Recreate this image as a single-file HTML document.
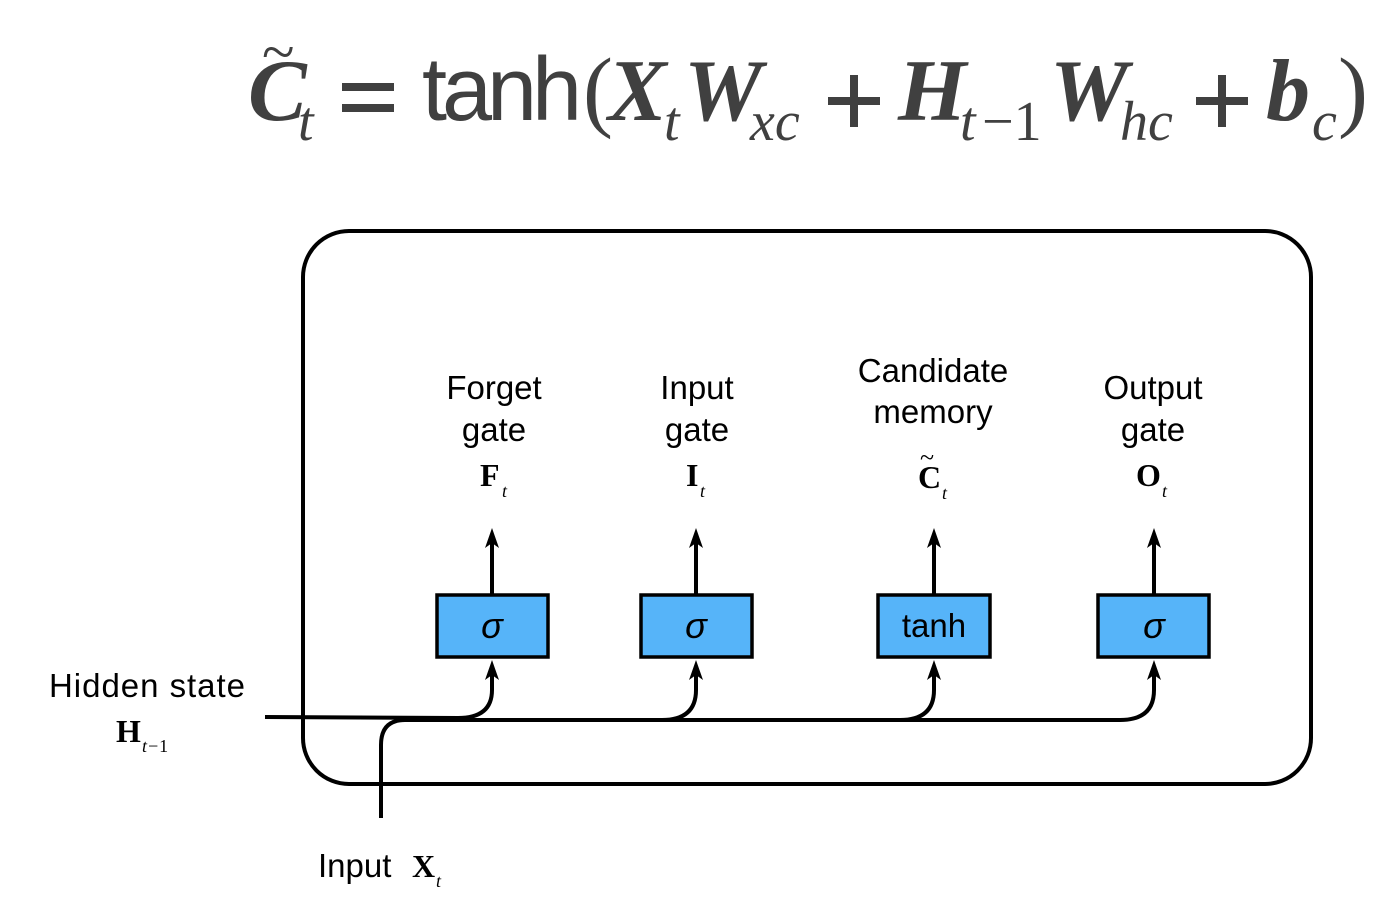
<!DOCTYPE html>
<html><head><meta charset="utf-8"><style>body{margin:0;background:#fff}svg{display:block}</style></head>
<body>
<svg width="1389" height="912" viewBox="0 0 1389 912" xmlns="http://www.w3.org/2000/svg">
<g fill="#404040" font-family="Liberation Serif, serif" font-style="italic" font-weight="bold" font-size="88">
<text x="248" y="120">C</text>
<text x="262" y="72" font-size="60" font-style="normal" font-weight="normal">~</text>
<text x="298" y="140" font-size="56" font-weight="normal">t</text>
<rect x="342" y="83" width="52" height="8"/>
<rect x="342" y="104" width="52" height="8"/>
<text x="422" y="120" font-family="Liberation Sans, sans-serif" font-style="normal" font-weight="normal" font-size="90" textLength="160">tanh</text>
<text x="583" y="120" font-style="normal" font-weight="normal" font-size="90">(</text>
<text x="608" y="120">X</text>
<text x="664" y="140" font-size="56" font-weight="normal">t</text>
<text x="684" y="120">W</text>
<text x="750" y="140" font-size="56" font-weight="normal">xc</text>
<rect x="828" y="97" width="52" height="8"/><rect x="850" y="75" width="8" height="52"/>
<text x="898" y="120">H</text>
<text x="960" y="140" font-size="56" font-weight="normal">t</text>
<text x="982" y="140" font-size="56" font-style="normal" font-weight="normal">−1</text>
<text x="1050" y="120">W</text>
<text x="1120" y="140" font-size="56" font-weight="normal">hc</text>
<rect x="1196" y="97" width="52" height="8"/><rect x="1218" y="75" width="8" height="52"/>
<text x="1266" y="120">b</text>
<text x="1312" y="140" font-size="56" font-weight="normal">c</text>
<text x="1338" y="120" font-style="normal" font-weight="normal" font-size="90">)</text>
</g>
<g fill="none" stroke="#000" stroke-width="4">
<rect x="303" y="231" width="1008" height="553" rx="46"/>
<path d="M265 717 L458 718 Q492 718 492 690 L492 666"/>
<path d="M381 818 L381 745 Q381 720 405 720 L1120 720 Q1154 720 1154 690 L1154 666"/>
<path d="M662 720 Q696 720 696 690 L696 666"/>
<path d="M900 720 Q934 720 934 690 L934 666"/>
<path d="M492 594 L492 540 M696 594 L696 540 M934 594 L934 540 M1154 594 L1154 540"/>
</g>
<g fill="#000">
<path d="M492 528 l-7 20 l7 -5 l7 5z M696 528 l-7 20 l7 -5 l7 5z M934 528 l-7 20 l7 -5 l7 5z M1154 528 l-7 20 l7 -5 l7 5z"/>
<path d="M492 660 l-7 20 l7 -5 l7 5z M696 660 l-7 20 l7 -5 l7 5z M934 660 l-7 20 l7 -5 l7 5z M1154 660 l-7 20 l7 -5 l7 5z"/>
</g>
<g fill="#56b4f9" stroke="#000" stroke-width="3.5">
<rect x="437" y="595" width="111" height="62"/>
<rect x="641" y="595" width="111" height="62"/>
<rect x="878" y="595" width="112" height="62"/>
<rect x="1098" y="595" width="111" height="62"/>
</g>
<g font-family="Liberation Sans, sans-serif" font-size="33" text-anchor="middle" fill="#000">
<text x="492" y="638" font-style="italic" font-size="36">σ</text>
<text x="696" y="638" font-style="italic" font-size="36">σ</text>
<text x="934" y="637">tanh</text>
<text x="1154" y="638" font-style="italic" font-size="36">σ</text>
<text x="494" y="399">Forget</text><text x="494" y="441">gate</text>
<text x="697" y="399">Input</text><text x="697" y="441">gate</text>
<text x="933" y="382">Candidate</text><text x="933" y="423">memory</text>
<text x="1153" y="399">Output</text><text x="1153" y="441">gate</text>
<text x="147" y="697" textLength="196">Hidden state</text>
</g>
<g font-family="Liberation Serif, serif" font-weight="bold" font-size="32" fill="#000">
<text x="480" y="486">F</text><text x="502" y="497" font-size="18" font-style="italic" font-weight="normal">t</text>
<text x="686" y="486">I</text><text x="700" y="497" font-size="18" font-style="italic" font-weight="normal">t</text>
<text x="918" y="488">C</text><text x="920" y="466" font-size="26" font-weight="normal">~</text><text x="942" y="499" font-size="18" font-style="italic" font-weight="normal">t</text>
<text x="1136" y="486">O</text><text x="1162" y="497" font-size="18" font-style="italic" font-weight="normal">t</text>
<text x="116" y="742">H</text><text x="142" y="752" font-size="18" font-style="italic" font-weight="normal">t−<tspan font-style="normal">1</tspan></text>
<text x="412" y="877">X</text><text x="436" y="887" font-size="18" font-style="italic" font-weight="normal">t</text>
</g>
<text x="318" y="877" font-family="Liberation Sans, sans-serif" font-size="33">Input</text>
</svg>
</body></html>
